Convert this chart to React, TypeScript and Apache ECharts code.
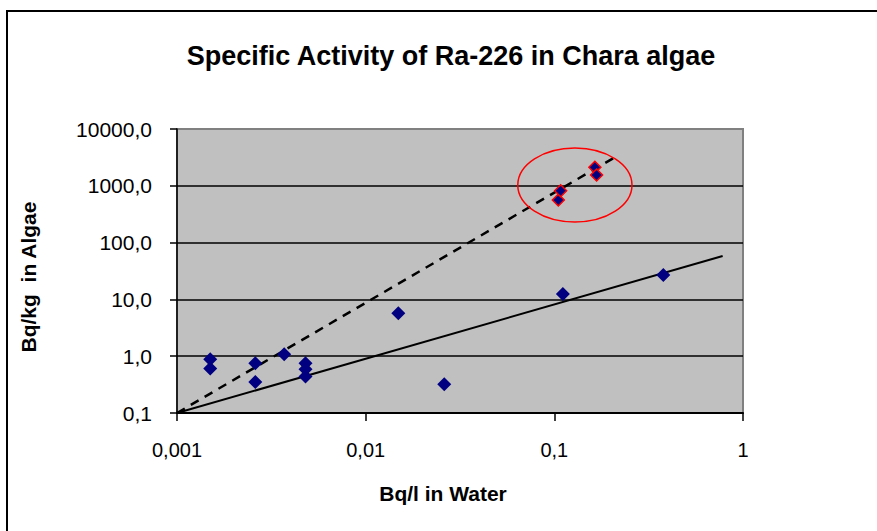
import React, { useEffect, useRef } from "react";
import * as echarts from "echarts";

const titleText = "Specific Activity of Ra-226 in Chara algae";
const xAxisTitle = "Bq/l in Water";
const yAxisTitle = "Bq/kg  in Algae";

// tick labels for decades 10^-3 .. 10^0 and 10^-1 .. 10^4
const xTickLabels = ["0,001", "0,01", "0,1", "1"];
const yTickLabels = ["0,1", "1,0", "10,0", "100,0", "1000,0", "10000,0"];

// measured samples (Bq/l in water, Bq/kg in algae)
const bluePoints: [number, number][] = [
  [0.0015, 0.88],
  [0.0015, 0.61],
  [0.0026, 0.75],
  [0.0026, 0.35],
  [0.0037, 1.08],
  [0.0048, 0.75],
  [0.0048, 0.59],
  [0.0048, 0.44],
  [0.0149, 5.7],
  [0.0261, 0.32],
  [0.111, 12.4],
  [0.378, 26.9],
];

const redPoints: [number, number][] = [
  [0.105, 562],
  [0.108, 820],
  [0.164, 2120],
  [0.1675, 1550],
];

const solidTrend: [number, number][] = [
  [0.001, 0.1],
  [0.78, 58],
];
const dashedTrend: [number, number][] = [
  [0.001, 0.1],
  [0.21, 3200],
];

// highlighted region (ellipse bounding box, data space)
const ellipseX: [number, number] = [0.064, 0.258];
const ellipseY: [number, number] = [230, 4630];

export default function App() {
  const ref = useRef<HTMLDivElement>(null);
  useEffect(() => {
    if (!ref.current) return;
    const chart = echarts.init(ref.current, undefined, { renderer: "svg" });
    const font = "'Liberation Sans', Arial, sans-serif";
    chart.setOption({
      animation: false,
      backgroundColor: "#ffffff",
      title: {
        text: titleText,
        left: 446,
        top: 37,
        textAlign: "center",
        textStyle: { fontFamily: font, fontWeight: "bold", fontSize: 27, color: "#000" },
      },
      grid: {
        left: 177,
        top: 129,
        width: 566,
        height: 284,
        show: true,
        backgroundColor: "#C0C0C0",
        borderColor: "#808080",
        borderWidth: 2,
      },
      xAxis: {
        type: "log",
        logBase: 10,
        min: 0.001,
        max: 1,
        name: xAxisTitle,
        nameLocation: "middle",
        nameGap: 70,
        nameTextStyle: {
          fontFamily: font,
          fontWeight: "bold",
          fontSize: 21,
          color: "#000",
          padding: [0, 34, 0, 0],
        },
        axisLine: { show: true, lineStyle: { color: "#000", width: 2 } },
        axisTick: { show: true, length: 8, lineStyle: { color: "#000", width: 1.5 } },
        minorTick: { show: false },
        splitLine: { show: false },
        axisLabel: {
          margin: 27,
          fontFamily: font,
          fontSize: 20,
          color: "#000",
          formatter: (v: number) => xTickLabels[Math.round(Math.log10(v)) + 3] ?? "",
        },
      },
      yAxis: {
        type: "log",
        logBase: 10,
        min: 0.1,
        max: 10000,
        name: yAxisTitle,
        nameLocation: "middle",
        nameGap: 138,
        nameTextStyle: {
          fontFamily: font,
          fontWeight: "bold",
          fontSize: 21,
          color: "#000",
          padding: [0, 12, 0, 0],
        },
        axisLine: { show: true, lineStyle: { color: "#000", width: 1.5 } },
        axisTick: { show: true, length: 7, lineStyle: { color: "#000", width: 1.5 } },
        splitLine: {
          show: true,
          showMinLine: false,
          showMaxLine: false,
          lineStyle: { color: "#000", width: 1.5 },
        },
        axisLabel: {
          margin: 25,
          fontFamily: font,
          fontSize: 21,
          color: "#000",
          formatter: (v: number) => yTickLabels[Math.round(Math.log10(v)) + 1] ?? "",
        },
      },
      series: [
        {
          type: "line",
          data: solidTrend,
          showSymbol: false,
          symbol: "none",
          lineStyle: { color: "#000", width: 2 },
          z: 3,
        },
        {
          type: "line",
          data: dashedTrend,
          showSymbol: false,
          symbol: "none",
          lineStyle: { color: "#000", width: 2.5, type: [9, 7] },
          z: 3,
        },
        {
          type: "scatter",
          data: bluePoints,
          symbol: "diamond",
          symbolSize: 14,
          itemStyle: { color: "#000080", opacity: 1 },
          z: 4,
        },
        {
          type: "scatter",
          data: redPoints,
          symbol: "diamond",
          symbolSize: 12,
          itemStyle: { color: "#000080", borderColor: "#FF0000", borderWidth: 1.5, opacity: 1 },
          z: 4,
        },
      ],
    });

    const p1 = chart.convertToPixel({ gridIndex: 0 }, [ellipseX[0], ellipseY[1]]) as number[];
    const p2 = chart.convertToPixel({ gridIndex: 0 }, [ellipseX[1], ellipseY[0]]) as number[];
    chart.setOption({
      graphic: [
        {
          type: "rect",
          shape: { x: 7, y: 11, width: 900, height: 560 },
          style: { fill: "none", stroke: "#000", lineWidth: 2 },
          silent: true,
        },
        {
          type: "ellipse",
          shape: {
            cx: (p1[0] + p2[0]) / 2,
            cy: (p1[1] + p2[1]) / 2,
            rx: Math.abs(p2[0] - p1[0]) / 2,
            ry: Math.abs(p2[1] - p1[1]) / 2,
          },
          style: { fill: "none", stroke: "#FF0000", lineWidth: 1.5 },
          z: 10,
          silent: true,
        },
      ],
    });
    return () => chart.dispose();
  }, []);
  return (
    <div
      ref={ref}
      style={{ position: "fixed", left: 0, top: 0, width: 877, height: 531, background: "#fff" }}
    />
  );
}
